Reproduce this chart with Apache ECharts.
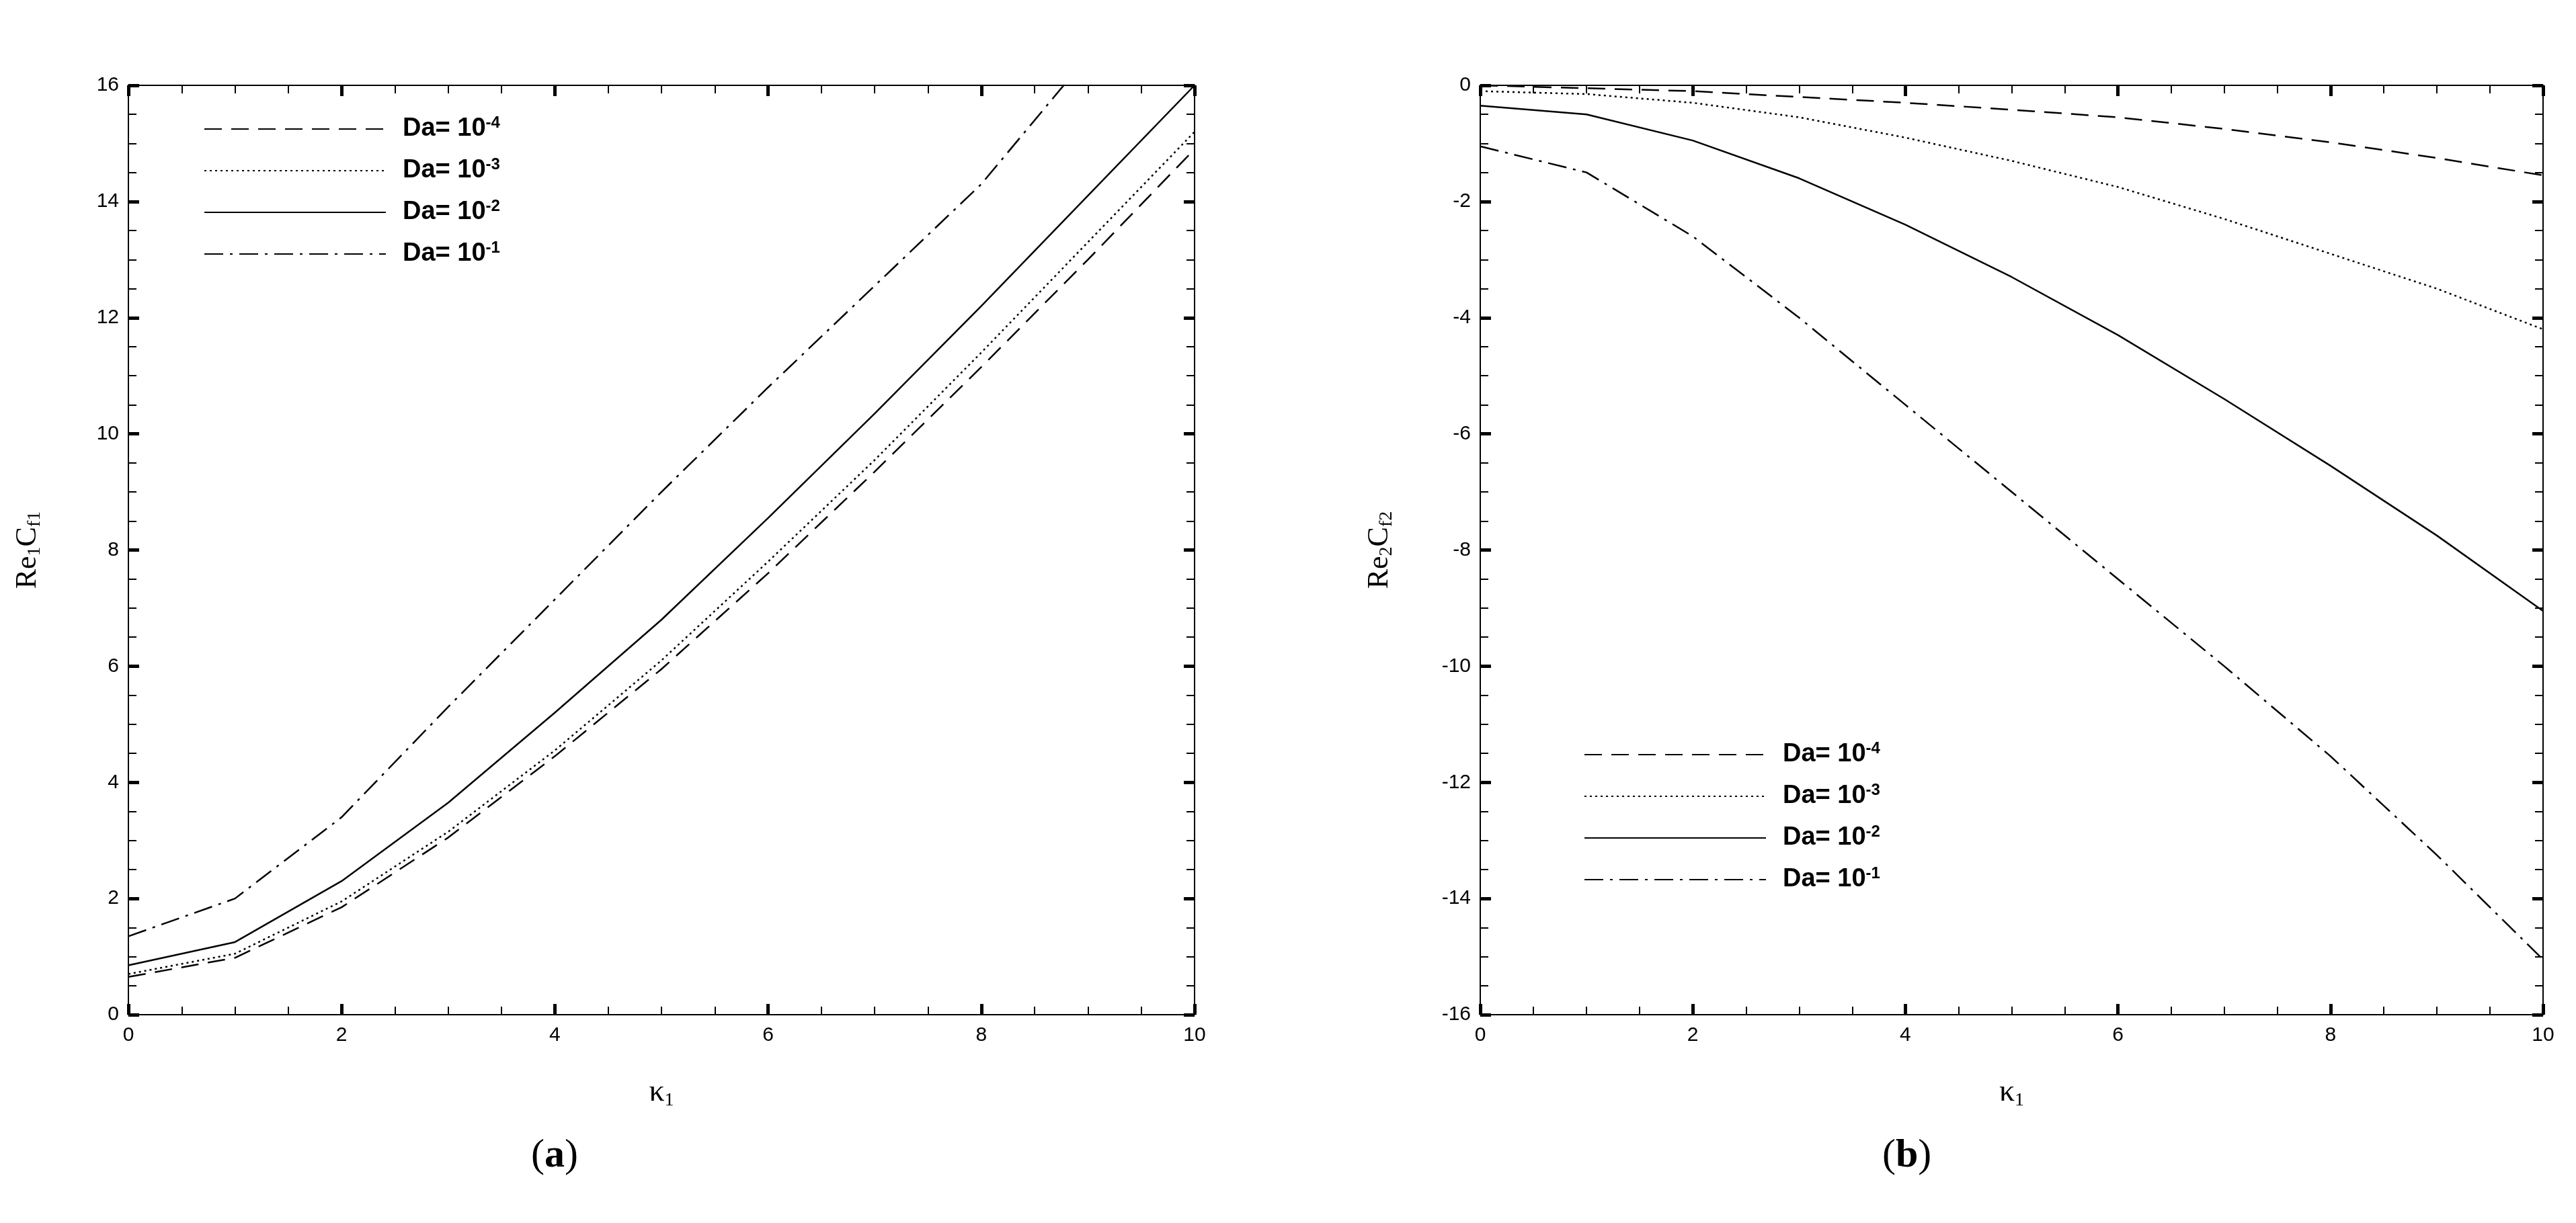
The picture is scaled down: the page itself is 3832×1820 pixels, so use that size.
<!DOCTYPE html>
<html>
<head>
<meta charset="utf-8">
<script src="https://cdn.jsdelivr.net/npm/echarts@6/dist/echarts.min.js"></script>
<style>
  html, body { margin: 0; padding: 0; background: #fff; }
  #chart { width: 3832px; height: 1820px; }
</style>
</head>
<body>
<div id="chart"></div>
<script>
// kappa_1 values
const kappa = [0, 1, 2, 3, 4, 5, 6, 7, 8, 9, 10];

// (a) Re1 Cf1
const a_da4 = [0.65, 0.98, 1.85, 3.05, 4.45, 5.95, 7.6, 9.35, 11.15, 13.0, 14.9];
const a_da3 = [0.7, 1.05, 1.95, 3.15, 4.55, 6.1, 7.8, 9.55, 11.4, 13.3, 15.2];
const a_da2 = [0.85, 1.25, 2.3, 3.65, 5.2, 6.8, 8.55, 10.35, 12.2, 14.1, 16.0];
const a_da1 = [1.35, 2.0, 3.4, 5.3, 7.15, 9.0, 10.8, 12.55, 14.3, 16.5, 18.3];

// (b) Re2 Cf2
const b_da4 = [0, -0.05, -0.1, -0.2, -0.3, -0.42, -0.55, -0.75, -0.98, -1.25, -1.55];
const b_da3 = [-0.1, -0.15, -0.3, -0.55, -0.9, -1.3, -1.75, -2.3, -2.9, -3.5, -4.2];
const b_da2 = [-0.35, -0.5, -0.95, -1.6, -2.4, -3.3, -4.3, -5.4, -6.55, -7.75, -9.05];
const b_da1 = [-1.05, -1.5, -2.6, -4.0, -5.5, -7.0, -8.5, -10.0, -11.55, -13.25, -15.05];

const legendNames = ['Da= 10^-4', 'Da= 10^-3', 'Da= 10^-2', 'Da= 10^-1'];
const lineTypes = [[26, 14], [3, 5], 'solid', [28, 10, 4, 10]];

const grids = [
    { left: 191, top: 127, width: 1586, height: 1383 },
    { left: 2202, top: 127, width: 1581, height: 1383 }
];

function xAx(gi, pos) {
    return {
        type: 'value', gridIndex: gi, position: pos, min: 0, max: 10, interval: 2,
        axisLine: { onZero: false, lineStyle: { color: '#000', width: 2 } },
        axisTick: { inside: true, length: 16, lineStyle: { color: '#000', width: 5 } },
        minorTick: { show: true, splitNumber: 4, length: 12, lineStyle: { color: '#000', width: 2 } },
        axisLabel: { show: pos === 'bottom', color: '#000', fontFamily: 'Liberation Sans', fontSize: 30, margin: 16 },
        splitLine: { show: false },
        name: pos === 'bottom' ? '{k|κ}{s|1}' : '',
        nameLocation: 'middle', nameGap: 90,
        nameTextStyle: { rich: { k: { fontFamily: 'Liberation Serif', fontSize: 46, color: '#000' }, s: { fontFamily: 'Liberation Serif', fontSize: 28, color: '#000', verticalAlign: 'bottom', padding: [24, 0, 0, 0] } } }
    };
}

function yAx(gi, pos, min, max, nm) {
    return {
        type: 'value', gridIndex: gi, position: pos, min: min, max: max, interval: 2,
        axisLine: { onZero: false, lineStyle: { color: '#000', width: 2 } },
        axisTick: { inside: true, length: 16, lineStyle: { color: '#000', width: 5 } },
        minorTick: { show: true, splitNumber: 4, length: 12, lineStyle: { color: '#000', width: 2 } },
        axisLabel: { show: pos === 'left', color: '#000', fontFamily: 'Liberation Sans', fontSize: 30, margin: 14 },
        splitLine: { show: false },
        name: pos === 'left' ? nm : '',
        nameLocation: 'middle', nameGap: 125, nameRotate: 90,
        nameTextStyle: { rich: { r: { fontFamily: 'Liberation Serif', fontSize: 44, color: '#000' }, s: { fontFamily: 'Liberation Serif', fontSize: 28, color: '#000', padding: [22, 0, 0, 0] } } }
    };
}

function mkSeries(vals, gi, idx) {
    return {
        type: 'line', name: legendNames[idx], xAxisIndex: gi * 2, yAxisIndex: gi * 2,
        data: kappa.map((k, i) => [k, vals[i]]),
        symbol: 'none', clip: true,
        itemStyle: { color: '#000' },
        lineStyle: { color: '#000', width: 2.5, type: lineTypes[idx] }
    };
}

function legendFmt(name) {
    const p = name.split('^');
    return '{b|' + p[0] + '}{sup|' + p[1] + '}';
}

function mkLegend(left, top) {
    return {
        left: left, top: top, orient: 'vertical', itemWidth: 270, itemHeight: 20, itemGap: 22,
        data: legendNames,
        itemStyle: { opacity: 0 },
        formatter: legendFmt,
        textStyle: {
            padding: [0, 0, 0, 20],
            rich: {
                b: { fontFamily: 'Liberation Sans', fontWeight: 'bold', fontSize: 38, color: '#000' },
                sup: { fontFamily: 'Liberation Sans', fontWeight: 'bold', fontSize: 24, color: '#000', verticalAlign: 'top', padding: [0, 0, 18, 0] }
            }
        }
    };
}

const chart = echarts.init(document.getElementById('chart'));
chart.setOption({
    backgroundColor: '#fff',
    animation: false,
    grid: grids,
    xAxis: [xAx(0, 'bottom'), xAx(0, 'top'), xAx(1, 'bottom'), xAx(1, 'top')],
    yAxis: [
        yAx(0, 'left', 0, 16, '{r|Re}{s|1}{r|C}{s|f1}'), yAx(0, 'right', 0, 16, ''),
        yAx(1, 'left', -16, 0, '{r|Re}{s|2}{r|C}{s|f2}'), yAx(1, 'right', -16, 0, '')
    ],
    legend: [mkLegend(298, 166), mkLegend(2351, 1097)],
    series: [
        mkSeries(a_da4, 0, 0), mkSeries(a_da3, 0, 1), mkSeries(a_da2, 0, 2), mkSeries(a_da1, 0, 3),
        mkSeries(b_da4, 1, 0), mkSeries(b_da3, 1, 1), mkSeries(b_da2, 1, 2), mkSeries(b_da1, 1, 3)
    ],
    graphic: [
        { type: 'text', left: 790, top: 1690, style: { text: '({a|a})', rich: { a: { fontWeight: 'bold', fontFamily: 'Liberation Serif', fontSize: 60 } }, fontFamily: 'Liberation Serif', fontSize: 60, fill: '#000' } },
        { type: 'text', left: 2800, top: 1690, style: { text: '({a|b})', rich: { a: { fontWeight: 'bold', fontFamily: 'Liberation Serif', fontSize: 60 } }, fontFamily: 'Liberation Serif', fontSize: 60, fill: '#000' } }
    ]
});
</script>
</body>
</html>
